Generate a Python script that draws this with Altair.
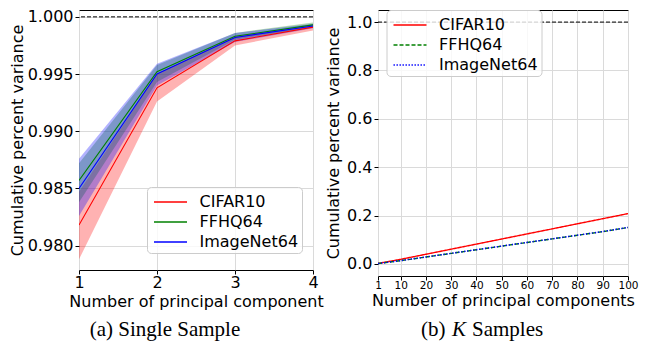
import altair as alt
import pandas as pd

# ---------------- data ----------------
datasets = ["CIFAR10", "FFHQ64", "ImageNet64"]
line_colors = ["#ff0000", "#008000", "#0000ff"]

# Panel (a): single sample
k_single = [1, 2, 3, 4]
cifar_mean = [0.9818, 0.9938, 0.9979, 0.9991]
cifar_lo = [0.9788, 0.9926, 0.9975, 0.9988]
cifar_hi = [0.9847, 0.9950, 0.9983, 0.9993]
ffhq_mean = [0.9857, 0.9952, 0.9983, 0.9993]
ffhq_lo = [0.9838, 0.9943, 0.9980, 0.9991]
ffhq_hi = [0.9872, 0.9958, 0.9986, 0.9995]
imnet_mean = [0.9850, 0.9950, 0.9982, 0.9992]
imnet_lo = [0.9826, 0.9940, 0.9978, 0.9990]
imnet_hi = [0.9876, 0.9959, 0.9986, 0.9994]

# Panel (b): K samples
k_multi = [1, 10, 20, 30, 40, 50, 60, 70, 80, 90, 100]
cifar_multi = [0.002, 0.019, 0.040, 0.061, 0.082, 0.103, 0.124, 0.145, 0.166, 0.187, 0.208]
ffhq_multi = [0.0015, 0.0135, 0.0285, 0.0435, 0.0585, 0.0735, 0.0885, 0.1035, 0.1185, 0.1335, 0.1505]
imnet_multi = [0.0015, 0.0136, 0.0287, 0.0438, 0.0588, 0.0738, 0.0888, 0.1038, 0.1188, 0.1338, 0.1508]

reference_level = [1.0]
caption_a = ["(a) Single Sample"]
caption_b = ["(b) ", "K", "Samples"]

# ---------------- tables ----------------
rows = []
for name, m, lo, hi in zip(datasets,
                           [cifar_mean, ffhq_mean, imnet_mean],
                           [cifar_lo, ffhq_lo, imnet_lo],
                           [cifar_hi, ffhq_hi, imnet_hi]):
    for k, a, b, c in zip(k_single, m, lo, hi):
        rows.append({"dataset": name, "band": name + " band", "k": k,
                     "mean": a, "lo": b, "hi": c})
left_df = pd.DataFrame(rows)
band_names = [d + " band" for d in datasets]

rows = []
for name, vals in zip(datasets, [cifar_multi, ffhq_multi, imnet_multi]):
    for k, v in zip(k_multi, vals):
        rows.append({"dataset": name, "k": k, "value": v})
right_df = pd.DataFrame(rows)

ref_df = pd.DataFrame({"y": reference_level})

FONT = "DejaVu Sans"
SERIF = "Liberation Serif"

def make_legend(x, y):
    return alt.Legend(
        orient="none", legendX=x, legendY=y, title=None,
        symbolType="M-1.5,0L1.5,0", symbolSize=484, symbolStrokeWidth=1.5,
        symbolOffset=8.5, labelOffset=17, padding=3, rowPadding=0,
        labelFontSize=16, labelFont=FONT, labelColor="black",
        fillColor="rgba(255,255,255,0.8)", strokeColor="#cccccc",
        cornerRadius=4,
    )

# ---------------- left panel ----------------
xl = alt.X("k:Q", scale=alt.Scale(domain=[1, 4], nice=False, zero=False),
           axis=alt.Axis(values=k_single, format="d", labelFlush=False,
                         title="Number of principal component",
                         labelPadding=0, titlePadding=3))
yl_scale = alt.Scale(domain=[0.97787, 1.0006], nice=False, zero=False)
yl_axis = alt.Axis(values=[0.980, 0.985, 0.990, 0.995, 1.000], format=".3f",
                   title="Cumulative percent variance",
                   labelPadding=2, titlePadding=2)

lbase = alt.Chart(left_df)
bands = lbase.mark_area(opacity=0.3, clip=True).encode(
    x=xl,
    y=alt.Y("lo:Q", scale=yl_scale, axis=yl_axis),
    y2="hi:Q",
    fill=alt.Fill("band:N", scale=alt.Scale(domain=band_names, range=line_colors),
                  legend=None),
)
llines = lbase.mark_line(strokeWidth=1.1, clip=True).encode(
    x=xl,
    y=alt.Y("mean:Q", scale=yl_scale, axis=yl_axis),
    stroke=alt.Stroke("dataset:N", scale=alt.Scale(domain=datasets, range=line_colors),
                      legend=make_legend(68, 177)),
)
lref = alt.Chart(ref_df).mark_rule(color="black", strokeDash=[4, 2], strokeWidth=1).encode(
    y=alt.Y("y:Q", scale=yl_scale, axis=yl_axis)
)
lcap = alt.Chart(pd.DataFrame({"t": caption_a})).mark_text(
    font=SERIF, fontSize=21, color="black", align="center", baseline="middle"
).encode(x=alt.value(86), y=alt.value(320), text="t:N")

left = alt.layer(bands, llines, lref, lcap).properties(width=234, height=260)

# ---------------- right panel ----------------
xr = alt.X("k:Q", scale=alt.Scale(domain=[1, 100], nice=False, zero=False),
           axis=alt.Axis(values=k_multi, format="d", labelOverlap=False, labelFlush=False,
                         title="Number of principal components",
                         labelFontSize=10.5, labelPadding=0, titlePadding=2))
yr_scale = alt.Scale(domain=[-0.05, 1.05], nice=False, zero=False)
yr_axis = alt.Axis(values=[0.0, 0.2, 0.4, 0.6, 0.8, 1.0], format=".1f",
                   title="Cumulative percent variance",
                   labelPadding=2, titlePadding=5)

rlines = alt.Chart(right_df).mark_line(strokeWidth=1.4, clip=True).encode(
    x=xr,
    y=alt.Y("value:Q", scale=yr_scale, axis=yr_axis),
    stroke=alt.Stroke("dataset:N", scale=alt.Scale(domain=datasets, range=line_colors),
                      legend=make_legend(8.5, 0)),
    strokeDash=alt.StrokeDash("dataset:N",
                              scale=alt.Scale(domain=datasets,
                                              range=[[1, 0], [4, 2], [1.4, 1.6]]),
                              legend=make_legend(8.5, 0)),
    order=alt.Order("dataset:N"),
)
rref = alt.Chart(ref_df).mark_rule(color="black", strokeDash=[4, 2], strokeWidth=1).encode(
    y=alt.Y("y:Q", scale=yr_scale, axis=yr_axis)
)
cap_df = pd.DataFrame({"t": caption_b})
rcap1 = alt.Chart(cap_df.iloc[[0]]).mark_text(
    font=SERIF, fontSize=21, color="black", align="left", baseline="middle"
).encode(x=alt.value(43), y=alt.value(320), text="t:N")
rcap2 = alt.Chart(cap_df.iloc[[1]]).mark_text(
    font=SERIF, fontSize=21, fontStyle="italic", color="black", align="left", baseline="middle"
).encode(x=alt.value(74), y=alt.value(320), text="t:N")
rcap3 = alt.Chart(cap_df.iloc[[2]]).mark_text(
    font=SERIF, fontSize=21, color="black", align="left", baseline="middle"
).encode(x=alt.value(94), y=alt.value(320), text="t:N")

right = alt.layer(rlines, rref, rcap1, rcap2, rcap3).properties(width=250, height=266)

chart = alt.hconcat(left, right, spacing=65, bounds="flush").resolve_scale(
    stroke="independent", strokeDash="independent", fill="independent",
    x="independent", y="independent"
).resolve_legend(stroke="independent", strokeDash="independent").properties(
    padding={"left": 0, "top": 0, "right": 5, "bottom": 0}
).configure_view(
    stroke="black", strokeWidth=1
).configure_axis(
    domain=False, grid=True, gridColor="#dadada", gridWidth=1,
    tickColor="black", tickSize=4, tickWidth=1,
    labelFont=FONT, labelFontSize=16, labelColor="black",
    titleFont=FONT, titleFontSize=16, titleFontWeight="normal", titleColor="black",
)

chart.save("out.html", embed_options={"renderer": "svg", "actions": False})
